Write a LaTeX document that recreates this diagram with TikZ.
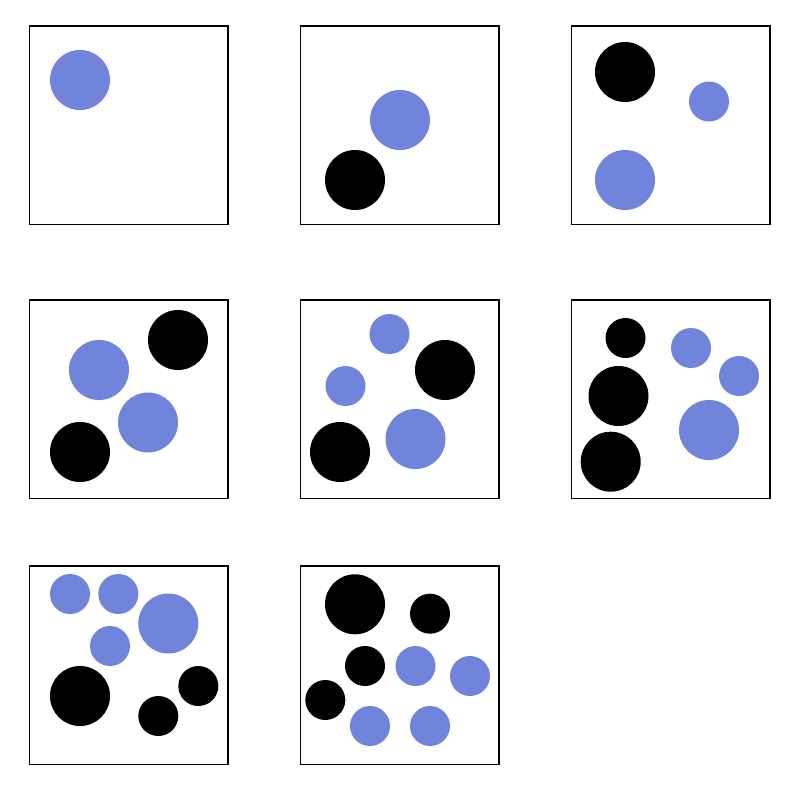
\documentclass[tikz,border=0pt]{standalone}
\definecolor{dotblue}{HTML}{7084DB}
\begin{document}
\begin{tikzpicture}[x=0.75pt,y=-0.75pt,
  panel/.style={draw=black,line width=0.9pt,fill=white},
  bdot/.style={fill=dotblue},
  kdot/.style={fill=black}]
\useasboundingbox (0,0) rectangle (800,800);
\fill[white] (0,0) rectangle (800,800);
% panels
\foreach \px/\py in {29.5/26,300.5/26,571.5/26,29.5/300,300.5/300,571.5/300,29.5/566,300.5/566}
  \draw[panel] (\px,\py) rectangle ++(198.5,198.5);
% panel 1
\fill[bdot] (80,80) circle[radius=22.5pt];
% panel 2
\fill[bdot] (400,120) circle[radius=22.5pt];
\fill[kdot] (355,180) circle[radius=22.5pt];
% panel 3
\fill[kdot] (625,72) circle[radius=22.5pt];
\fill[bdot] (709,101.5) circle[radius=15pt];
\fill[bdot] (625,180) circle[radius=22.5pt];
% panel 4
\fill[kdot] (178,340) circle[radius=22.5pt];
\fill[bdot] (99,370) circle[radius=22.5pt];
\fill[bdot] (148,422.5) circle[radius=22.5pt];
\fill[kdot] (80,452) circle[radius=22.5pt];
% panel 5
\fill[bdot] (389.5,334) circle[radius=15pt];
\fill[kdot] (445,370) circle[radius=22.5pt];
\fill[bdot] (345.5,386) circle[radius=15pt];
\fill[kdot] (340,452) circle[radius=22.5pt];
\fill[bdot] (415.5,439) circle[radius=22.5pt];
% panel 6
\fill[kdot] (625.5,338) circle[radius=15pt];
\fill[bdot] (691,348) circle[radius=15pt];
\fill[bdot] (739,376) circle[radius=15pt];
\fill[kdot] (618.5,396) circle[radius=22.5pt];
\fill[bdot] (709,430) circle[radius=22.5pt];
\fill[kdot] (610.7,461.7) circle[radius=22.5pt];
% panel 7
\fill[bdot] (70,594) circle[radius=15pt];
\fill[bdot] (118.3,594) circle[radius=15pt];
\fill[bdot] (168.3,623.5) circle[radius=22.5pt];
\fill[bdot] (110,646) circle[radius=15pt];
\fill[kdot] (80,696) circle[radius=22.5pt];
\fill[kdot] (198.3,686) circle[radius=15pt];
\fill[kdot] (158.3,716) circle[radius=15pt];
% panel 8
\fill[kdot] (355,604.3) circle[radius=22.5pt];
\fill[kdot] (430,613.7) circle[radius=15pt];
\fill[kdot] (365,666) circle[radius=15pt];
\fill[bdot] (415.5,666) circle[radius=15pt];
\fill[bdot] (470,676) circle[radius=15pt];
\fill[kdot] (325.3,700) circle[radius=15pt];
\fill[bdot] (370,726) circle[radius=15pt];
\fill[bdot] (430,726) circle[radius=15pt];
\end{tikzpicture}
\end{document}
